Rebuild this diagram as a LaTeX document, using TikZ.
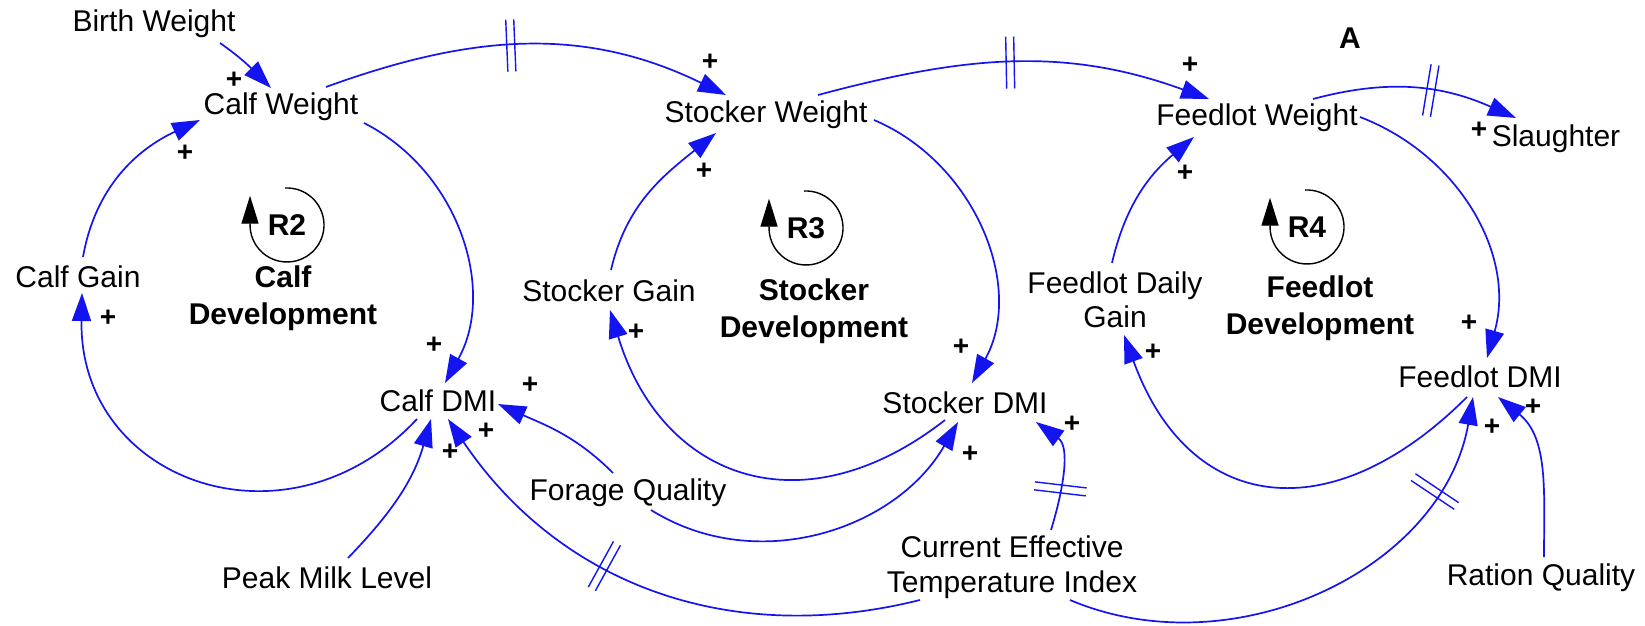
\documentclass[tikz,border=0pt]{standalone}
\usepackage{fontspec}
\setmainfont{Liberation Sans}
\usetikzlibrary{arrows.meta, decorations.markings}
\definecolor{linkblue}{RGB}{20,20,240}
\begin{document}
\begin{tikzpicture}[x=0.5pt, y=-0.5pt,
  var/.style={font=\fontsize{15pt}{17.5pt}\selectfont, inner sep=0pt, align=center},
  loopname/.style={font=\bfseries\fontsize{15pt}{18.5pt}\selectfont, inner sep=0pt, align=center},
  pl/.style={font=\bfseries\fontsize{14pt}{14pt}\selectfont, inner sep=0pt},
  link/.style={draw=linkblue, line width=0.85pt, -{Triangle[length=14pt,width=9.5pt]}},
  delayat/.style={postaction={decorate, decoration={markings, mark=at position #1 with {\draw[draw=linkblue, line width=0.7pt, -] (-2pt,-13pt) -- (-2pt,13pt) (2pt,-13pt) -- (2pt,13pt);}}}},
  loopsym/.style={draw=black, line width=0.7pt},
]
\useasboundingbox (0,0) rectangle (1645,626);
\fill[white] (0,0) rectangle (1645,626);

% variables
\node[var] (bw) at (154,24) {Birth Weight};
\node[var] (cw) at (281,107) {Calf Weight};
\node[var] (cg) at (78,277) {Calf Gain};
\node[var] (cdmi) at (438,401) {Calf DMI};
\node[var] (pml) at (327,578) {Peak Milk Level};
\node[var] (fq) at (628,493) {Forage Quality};
\node[var] (sw) at (766,115) {Stocker Weight};
\node[var] (sg) at (609,291) {Stocker Gain};
\node[var] (sdmi) at (965,403) {Stocker DMI};
\node[var] (cet) at (1012,567) {Current Effective\\Temperature Index};
\node[var] (fw) at (1257,118) {Feedlot Weight};
\node[var, font=\fontsize{15pt}{17pt}\selectfont] (fdg) at (1115,300) {Feedlot Daily\\Gain};
\node[var] (fdmi) at (1480,377) {Feedlot DMI};
\node[var] (rq) at (1541,578) {Ration Quality};
\node[var] (sl) at (1556,139) {Slaughter};

% titles and loop names
\node[loopname] (atitle) at (1350,38) {A};
\node[loopname] (l2) at (283,298) {Calf\\Development};
\node[loopname] (l3) at (814,311) {Stocker\\Development};
\node[loopname] (l4) at (1320,308) {Feedlot\\Development};
\node[loopname] (r2) at (287,225) {R2};
\node[loopname] (r3) at (806,228) {R3};
\node[loopname] (r4) at (1307,227) {R4};

% loop symbols
\foreach \r in {r2,r3,r4}
  \draw[loopsym, -{Triangle[length=14pt,width=8.5pt]}] ([shift={(93:18.5pt)}]\r.center)
    arc[start angle=93, end angle=-182, radius=18.5pt] -- ++(0pt,14pt);

% connectors
\draw[link] ([shift={(66,19)}]bw.center) to[out=-35, in=135] ([shift={(-10,-19)}]cw.center);
\draw[link] ([shift={(5,-20)}]cg.center) to[out=80, in=-155] ([shift={(-81,13)}]cw.center);
\draw[link] ([shift={(83,16)}]cw.center) to[out=-27, in=61] ([shift={(7,-18)}]cdmi.center);
\draw[link] ([shift={(-21,18)}]cdmi.center) to[out=-133, in=-91, looseness=1.35] ([shift={(4,16)}]cg.center);
\draw[link] ([shift={(21,-20)}]pml.center) to[out=46, in=-106] ([shift={(-7,18)}]cdmi.center);
\draw[link, delayat=0.6] ([shift={(-92,33)}]cet.center) to[out=-166, in=-56] ([shift={(10,18)}]cdmi.center);
\draw[link] ([shift={(-15,-20)}]fq.center) to[out=135, in=-24] ([shift={(60,3)}]cdmi.center);
\draw[link, delayat=0.46] ([shift={(45,-20)}]cw.center) to[out=20, in=154] ([shift={(-40,-20)}]sw.center);
\draw[link] ([shift={(2,-21)}]sg.center) to[out=77, in=-141] ([shift={(-50,18)}]sw.center);
\draw[link] ([shift={(108,5)}]sw.center) to[out=-23, in=61] ([shift={(7,-20)}]sdmi.center);
\draw[link] ([shift={(-20,17)}]sdmi.center) to[out=-142, in=-73, looseness=1.3] ([shift={(1,19)}]sg.center);
\draw[link] ([shift={(23,17)}]fq.center) to[out=-32, in=-120] ([shift={(-7,19)}]sdmi.center);
\draw[link, delayat=0.36] ([shift={(39,-37)}]cet.center) to[out=73, in=-36] ([shift={(71,19)}]sdmi.center);
\draw[link, delayat=0.49] ([shift={(52,-20)}]sw.center) to[out=15, in=160] ([shift={(-48,-19)}]fw.center);
\draw[link] ([shift={(-3,-37)}]fdg.center) to[out=77, in=-140] ([shift={(-63,19)}]fw.center);
\draw[link] ([shift={(103,-1)}]fw.center) to[out=-21, in=74] ([shift={(7,-19)}]fdmi.center);
\draw[link] ([shift={(-13,20)}]fdmi.center) to[out=-135, in=-70, looseness=1.4] ([shift={(9,35)}]fdg.center);
\draw[link, delayat=0.8] ([shift={(58,33)}]cet.center) to[out=-23, in=-100] ([shift={(-7,20)}]fdmi.center);
\draw[link] ([shift={(3,-21)}]rq.center) to[out=90, in=-39] ([shift={(18,20)}]fdmi.center);
\draw[link, delayat=0.57] ([shift={(56,-19)}]fw.center) to[out=15, in=156] ([shift={(-40,-21)}]sl.center);

% polarity signs
\node[pl] (p1) at (234,80) {+};
\node[pl] (p2) at (185,153) {+};
\node[pl] (p3) at (108,318) {+};
\node[pl] (p4) at (434,345) {+};
\node[pl] (p5) at (530,385) {+};
\node[pl] (p6) at (486,431) {+};
\node[pl] (p7) at (450,452) {+};
\node[pl] (p8) at (710,62) {+};
\node[pl] (p9) at (704,171) {+};
\node[pl] (p10) at (636,332) {+};
\node[pl] (p11) at (961,347) {+};
\node[pl] (p12) at (970,454) {+};
\node[pl] (p13) at (1072,424) {+};
\node[pl] (p14) at (1190,65) {+};
\node[pl] (p15) at (1185,173) {+};
\node[pl] (p16) at (1153,352) {+};
\node[pl] (p17) at (1469,323) {+};
\node[pl] (p18) at (1533,407) {+};
\node[pl] (p19) at (1492,427) {+};
\node[pl] (p20) at (1479,130) {+};
\end{tikzpicture}
\end{document}
